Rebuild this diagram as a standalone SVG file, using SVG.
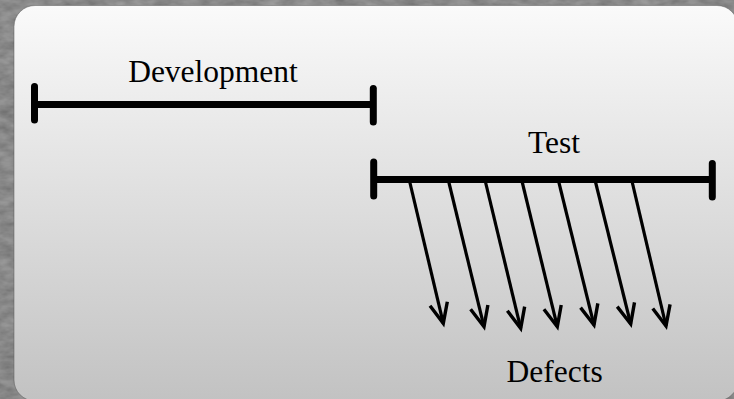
<svg xmlns="http://www.w3.org/2000/svg" width="734" height="399" viewBox="0 0 734 399">
  <style>
    .label { font-family: "Liberation Serif", "Times New Roman", serif; font-size: 31.5px; fill: #000; text-anchor: middle; }
    .bar { stroke: #000; stroke-width: 7; fill: none; stroke-linecap: butt; }
    .cap { stroke: #000; stroke-width: 7; fill: none; stroke-linecap: round; }
    .arrow { stroke: #000; stroke-width: 3.2; fill: none; marker-end: url(#open-arrow); }
  </style>
  <defs>
    <linearGradient id="panel-fill" x1="0" y1="0" x2="0" y2="1">
      <stop offset="0" stop-color="#fafafa"/>
      <stop offset="1" stop-color="#c2c2c2"/>
    </linearGradient>
    <filter id="stone" x="0" y="0" width="100%" height="100%">
      <feTurbulence type="fractalNoise" baseFrequency="0.06 0.12" numOctaves="3" seed="7" result="noise"/>
      <feColorMatrix in="noise" type="matrix"
        values="0 0 0 0 0.42
                0 0 0 0 0.42
                0 0 0 0 0.42
                0.9 0 0 0 -0.15" result="tint"/>
      <feComposite in="tint" in2="SourceGraphic" operator="over"/>
    </filter>
    <marker id="open-arrow" markerUnits="userSpaceOnUse" orient="auto" refX="0" refY="0"
            markerWidth="30" markerHeight="24" viewBox="-25 -12 30 24" overflow="visible">
      <path d="M-20.1,-8.9 L0,0 L-20.1,8.9" fill="none" stroke="#000" stroke-width="3.4" stroke-linejoin="miter"/>
    </marker>
  </defs>

  <!-- stone backdrop -->
  <rect x="0" y="0" width="734" height="399" fill="#737373" filter="url(#stone)"/>

  <!-- rounded panel -->
  <rect x="14" y="5.5" width="724" height="395.5" rx="21" ry="21" fill="url(#panel-fill)" stroke="#5a5a5a" stroke-opacity="0.5" stroke-width="1"/>

  <!-- Development phase -->
  <g id="development">
    <line class="bar" x1="34.5" y1="104.5" x2="373.3" y2="104.5"/>
    <line class="cap" x1="34.5" y1="86.5" x2="34.5" y2="120"/>
    <line class="cap" x1="373.3" y1="88.5" x2="373.3" y2="122"/>
    <text class="label" x="213" y="82">Development</text>
  </g>

  <!-- Test phase -->
  <g id="test">
    <line class="bar" x1="373.7" y1="179.5" x2="712.3" y2="179.5"/>
    <line class="cap" x1="373.7" y1="162" x2="373.7" y2="196"/>
    <line class="cap" x1="712.3" y1="163.5" x2="712.3" y2="197"/>
    <text class="label" x="554" y="153">Test</text>
  </g>

  <!-- Defects label -->
  <g id="defects">
    <text class="label" x="554.7" y="381.7">Defects</text>
  </g>

  <!-- defect arrows leaving the test bar -->
  <g id="connectors">
    <line class="arrow" x1="409.3" y1="180" x2="443.3" y2="323.3"/>
    <line class="arrow" x1="448.3" y1="180" x2="484" y2="326.7"/>
    <line class="arrow" x1="485" y1="180" x2="520.7" y2="328.3"/>
    <line class="arrow" x1="521.7" y1="180" x2="557.3" y2="326.7"/>
    <line class="arrow" x1="558.3" y1="180" x2="594" y2="325"/>
    <line class="arrow" x1="595" y1="180" x2="630.7" y2="324"/>
    <line class="arrow" x1="631.7" y1="180" x2="666" y2="326"/>
  </g>
</svg>
